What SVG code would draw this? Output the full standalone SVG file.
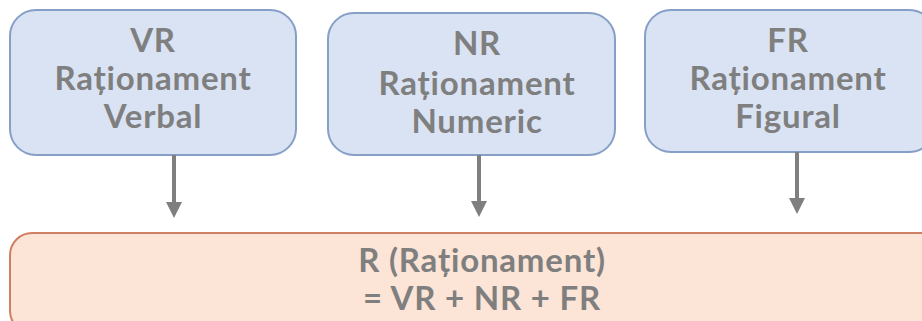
<svg xmlns="http://www.w3.org/2000/svg" width="922" height="321" viewBox="0 0 922 321">
<style>
.top{fill:#dae3f3;stroke:#869fc6;stroke-width:2}
.bot{fill:#fce4d6;stroke:#cf7f62;stroke-width:2}
text{font-family:Lato,"Open Sans","Liberation Sans",sans-serif;font-weight:700;font-size:33px;letter-spacing:0.8px;fill:#7f7f7f;text-anchor:middle}
.c{stroke:#7f7f7f;stroke-width:4;fill:none}
</style>
<defs>
<marker id="ah" markerWidth="4" markerHeight="4" refX="0" refY="2" orient="auto" markerUnits="strokeWidth" viewBox="0 0 4 4">
<path d="M0,0 L4,2 L0,4 z" fill="#7f7f7f"/>
</marker>
</defs>
<g id="vr">
<rect class="top" x="10" y="10" width="286" height="145" rx="26"/>
<text x="153" y="52">VR</text>
<text x="153" y="90">Raționament</text>
<text x="153" y="128">Verbal</text>
</g>
<g id="nr">
<rect class="top" x="328" y="13" width="287" height="142" rx="26"/>
<text x="477" y="55">NR</text>
<text x="477" y="95">Raționament</text>
<text x="477" y="133">Numeric</text>
</g>
<g id="fr">
<rect class="top" x="645" y="10" width="290" height="142" rx="26"/>
<text x="788" y="52">FR</text>
<text x="788" y="90">Raționament</text>
<text x="788" y="128">Figural</text>
</g>
<g id="r">
<rect class="bot" x="10" y="233" width="945" height="100" rx="22"/>
<text x="482" y="272">R (Raționament)</text>
<text x="482" y="310">= VR + NR + FR</text>
</g>
<g id="connectors">
<path class="c" d="M174,155 V202" marker-end="url(#ah)"/>
<path class="c" d="M479,155 V201" marker-end="url(#ah)"/>
<path class="c" d="M797,152 V198" marker-end="url(#ah)"/>
</g>
</svg>
